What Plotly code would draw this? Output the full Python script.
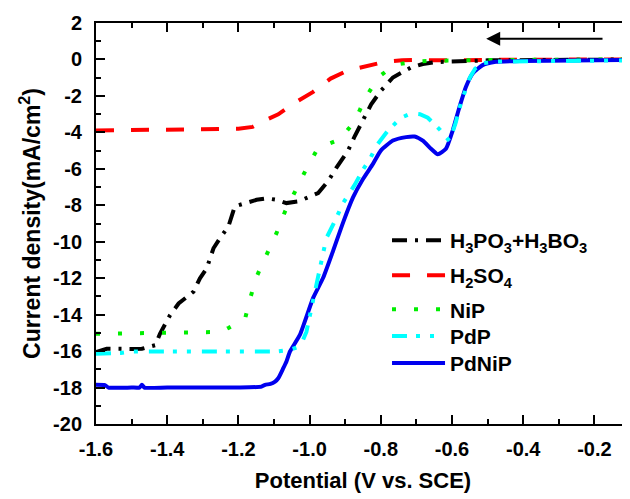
import plotly.graph_objects as go

# ---------------- data ----------------
x_h3 = [-1.6, -1.57, -1.5, -1.471, -1.434, -1.42, -1.392, -1.368, -1.326, -1.308, -1.289, -1.270,
        -1.252, -1.228, -1.210, -1.181, -1.149, -1.12, -1.093, -1.065, -1.032, -0.976, -0.948,
        -0.925, -0.892, -0.873, -0.855, -0.827, -0.80, -0.766, -0.715, -0.682, -0.65, -0.60, -0.5, -0.1]
y_h3 = [-16.05, -15.87, -15.88, -15.87, -15.68, -15.04, -14.03, -13.39, -12.74, -12.01, -11.46, -10.36,
        -9.81, -9.16, -8.06, -7.88, -7.7, -7.62, -7.7, -7.88, -7.79, -7.33, -6.68,
        -5.95, -5.0, -4.2, -3.47, -2.46, -1.72, -0.99, -0.44, -0.25, -0.15, -0.1, -0.05, 0.0]

x_h2so4 = [-1.6, -1.4, -1.2, -1.16, -1.135, -1.088, -1.041, -0.990, -0.941, -0.895, -0.841,
           -0.789, -0.74, -0.70, -0.6, -0.5, -0.1]
y_h2so4 = [-3.9, -3.85, -3.8, -3.7, -3.43, -3.01, -2.37, -1.78, -1.05, -0.62, -0.35,
           -0.13, -0.05, -0.03, -0.05, -0.02, 0.0]

x_nip = [-1.6, -1.4, -1.25, -1.228, -1.181, -1.167, -1.149, -1.121, -1.093, -1.069, -1.041, -1.009,
         -0.976, -0.945, -0.915, -0.873, -0.845, -0.808, -0.775, -0.747, -0.70, -0.64, -0.5, -0.1]
y_nip = [-15.05, -15.0, -14.95, -14.73, -14.21, -13.11, -11.92, -10.72, -9.53, -8.34, -7.2, -6.0,
         -4.85, -4.6, -4.39, -3.38, -2.18, -0.99, -0.5, -0.25, -0.11, -0.07, -0.03, 0.0]

x_pdp = [-1.6, -1.575, -1.55, -1.53, -1.50, -1.3, -1.093, -1.06, -1.035, -1.023, -1.009, -0.985,
         -0.976, -0.953, -0.925, -0.906, -0.873, -0.85, -0.831, -0.813, -0.78, -0.743, -0.714,
         -0.69, -0.668, -0.635, -0.607, -0.59, -0.575, -0.561, -0.55, -0.535, -0.51, -0.48, -0.4, -0.1]
y_pdp = [-16.15, -16.15, -16.15, -16.1, -16.02, -16.0, -16.02, -15.96, -15.8, -15.6, -14.95, -12.74,
         -11.92, -9.81, -8.7, -7.88, -6.87, -6.04, -5.49, -4.75, -3.9, -3.2, -2.95,
         -3.0, -3.2, -3.83, -4.48, -3.5, -2.4, -1.54, -1.0, -0.5, -0.2, -0.12, -0.1, -0.05]

x_pdnip = [-1.6, -1.575, -1.565, -1.5, -1.478, -1.471, -1.464, -1.4, -1.2, -1.135, -1.125, -1.11,
           -1.097, -1.088, -1.074, -1.065, -1.055, -1.027, -0.990, -0.962, -0.934, -0.906, -0.878,
           -0.850, -0.822, -0.80, -0.766, -0.729, -0.705, -0.682, -0.659, -0.64, -0.617, -0.598,
           -0.579, -0.561, -0.542, -0.514, -0.477, -0.4, -0.1]
y_pdnip = [-17.85, -17.87, -18.0, -18.0, -18.0, -17.85, -18.0, -18.0, -18.0, -17.95, -17.85, -17.8,
           -17.67, -17.49, -16.94, -16.57, -16.02, -15.1, -13.08, -11.98, -10.5, -8.95, -7.57,
           -6.56, -5.73, -5.0, -4.45, -4.26, -4.23, -4.45, -4.9, -5.2, -4.9, -3.9,
           -2.61, -1.51, -0.77, -0.31, -0.13, -0.08, -0.03]

x_tickvals = [-1.6, -1.4, -1.2, -1.0, -0.8, -0.6, -0.4, -0.2]
x_ticktext = ["-1.6", "-1.4", "-1.2", "-1.0", "-0.8", "-0.6", "-0.4", "-0.2"]
y_tickvals = [2, 0, -2, -4, -6, -8, -10, -12, -14, -16, -18, -20]
y_ticktext = ["2", "0", "-2", "-4", "-6", "-8", "-10", "-12", "-14", "-16", "-18", "-20"]

names = {
    "h3": "H<sub>3</sub>PO<sub>3</sub>+H<sub>3</sub>BO<sub>3</sub>",
    "h2so4": "H<sub>2</sub>SO<sub>4</sub>",
    "nip": "NiP",
    "pdp": "PdP",
    "pdnip": "PdNiP",
}

# ---------------- figure ----------------
fig = go.Figure()
LW = 4
fig.add_trace(go.Scatter(x=x_h2so4, y=y_h2so4, mode="lines", name=names["h2so4"], legend="legend3",
                         line=dict(color="#ff0000", width=LW, dash="18px,17px")))
fig.add_trace(go.Scatter(x=x_h3, y=y_h3, mode="lines", name=names["h3"], legend="legend2",
                         line=dict(color="#000000", width=LW, dash="15px,8px,3px,8px")))
fig.add_trace(go.Scatter(x=x_nip, y=y_nip, mode="lines", name=names["nip"], legend="legend4",
                         line=dict(color="#00ee00", width=LW, dash="4px,18px")))
fig.add_trace(go.Scatter(x=x_pdnip, y=y_pdnip, mode="lines", name=names["pdnip"], legend="legend6",
                         line=dict(color="#0000ee", width=LW, shape="spline", smoothing=0.5)))
fig.add_trace(go.Scatter(x=x_pdp, y=y_pdp, mode="lines", name=names["pdp"], legend="legend5",
                         line=dict(color="#00ffff", width=LW, dash="15px,9px,4px,10px,4px,11px")))

axis_common = dict(showgrid=False, zeroline=False, showline=True, linecolor="black", linewidth=2,
                   ticks="inside", tickcolor="black", tickwidth=2, ticklen=9,
                   tickfont=dict(size=20, color="black", family="Liberation Sans, Arial", weight="bold"))

fig.update_xaxes(range=[-1.6, -0.1], tickmode="array", tickvals=x_tickvals, ticktext=x_ticktext,
                 mirror="ticks", ticklabelstandoff=6,
                 minor=dict(tick0=-1.6, dtick=0.1, ticks="inside", ticklen=5, tickwidth=2, tickcolor="black"),
                 title=dict(text="<b>Potential (V vs. SCE)</b>", font=dict(size=22, color="black"), standoff=14),
                 **axis_common)
fig.update_yaxes(range=[-20, 2], tickmode="array", tickvals=y_tickvals, ticktext=y_ticktext,
                 mirror=False, ticklabelstandoff=8,
                 minor=dict(tick0=0, dtick=1, ticks="inside", ticklen=5, tickwidth=2, tickcolor="black"),
                 title=dict(text="<b>Current density(mA/cm<sup>2</sup>)</b>", font=dict(size=23, color="black"), standoff=6),
                 **axis_common)

fig.add_annotation(x=-0.504, y=1.14, ax=-0.173, ay=1.14, xref="x", yref="y", axref="x", ayref="y",
                   text="", showarrow=True, arrowhead=2, arrowsize=1.4, arrowwidth=2, arrowcolor="black")

leg = dict(x=0.545, xanchor="left", yanchor="top", bgcolor="rgba(0,0,0,0)", visible=True,
           font=dict(size=21, color="black", weight="bold"), itemwidth=53)

fig.update_layout(
    width=630, height=499,
    margin=dict(l=88, r=8, t=15, b=83, autoexpand=False),
    paper_bgcolor="white", plot_bgcolor="white",
    font=dict(family="Liberation Sans, Arial", size=20, color="black", weight="bold"),
    showlegend=True,
    legend2=dict(y=0.5084, **leg),
    legend3=dict(y=0.4212, **leg),
    legend4=dict(y=0.3361, **leg),
    legend5=dict(y=0.2698, **leg),
    legend6=dict(y=0.2025, **leg),
)

fig.write_html("out.html")
